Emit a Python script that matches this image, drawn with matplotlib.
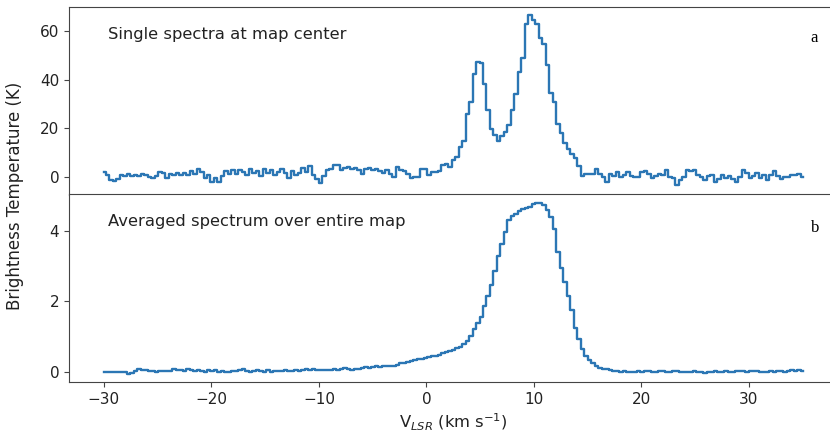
import numpy as np
import matplotlib
matplotlib.use("Agg")
import matplotlib.pyplot as plt

# velocity channels (km/s), 0.325 km/s spacing
velocity = np.linspace(-30, 35, 201)

# single spectrum at map center (K)
single_spectrum = [
    2.0, 0.8, -1.2, -1.5, -0.6, 0.9, 0.4, 1.2, 0.6, 1.0,
    0.3, 1.3, 0.7, 0.2, -0.3, 0.4, 2.1, 1.6, -0.2, 1.4,
    0.9, 1.6, 0.8, 1.9, 1.0, 2.6, 1.2, 3.2, 2.0, -0.5,
    0.8, -1.8, -0.2, -2.1, 0.6, 2.4, 1.5, 2.8, 1.2, 3.1,
    2.2, 0.9, 3.4, 1.6, 2.7, 0.4, 3.3, 1.8, 2.9, 0.7,
    2.1, 3.5, 1.9, -0.5, 2.4, 0.9, 1.6, 3.7, 2.3, 4.4,
    1.1, -0.8, -2.2, 0.5, 2.9, 3.4, 5.1, 4.8, 2.8, 3.6,
    4.1, 3.3, 3.6, 3.0, 1.4, 3.4, 3.9, 2.8, 3.2, 2.6,
    1.9, 3.0, 1.5, -0.1, 4.0, 2.9, 2.6, 1.2, -0.2, 0.2,
    -0.1, 3.4, 3.2, 0.7, 2.1, 2.0, 2.4, 5.1, 5.6, 4.3,
    6.9, 8.2, 12.3, 15.0, 26.0, 31.0, 42.5, 47.3, 47.0, 38.4,
    27.4, 19.9, 17.2, 15.0, 17.0, 18.5, 21.3, 27.4, 34.3, 43.0,
    49.0, 63.0, 66.5, 64.5, 63.0, 57.0, 54.6, 46.0, 34.4, 31.0,
    22.0, 18.0, 14.0, 11.4, 9.4, 8.0, 4.6, 0.5, 1.2, 1.4,
    1.3, 3.4, 1.2, 0.0, -2.0, 1.4, 0.3, 2.1, 0.2, 0.8,
    2.0, 0.6, -0.1, 0.2, 2.0, 2.5, 1.3, -0.3, 0.5, 1.5,
    0.8, 2.9, 0.1, -0.5, -3.0, -1.0, 0.2, 2.9, 2.6, 2.8,
    0.7, 0.1, -1.2, 0.6, 0.7, -2.0, -0.6, 0.9, -0.2, 0.6,
    -0.9, -2.0, 0.0, 2.9, 1.8, -0.3, 0.4, 1.6, -0.4, 0.8,
    -1.1, 0.9, 2.4, 0.3, -0.8, 0.1, 0.2, 0.7, 1.0, 1.4, 0.0,
]

# spectrum averaged over the whole map (K)
averaged_spectrum = [
    0.0, 0.0, 0.0, 0.0, 0.0, 0.0, 0.0, -0.05, -0.04, 0.03,
    0.09, 0.04, 0.06, 0.01, 0.03, 0.0, 0.02, 0.01, 0.03, 0.02,
    0.07, 0.05, 0.04, 0.03, 0.08, 0.05, 0.03, 0.06, 0.01, 0.0,
    0.04, 0.02, 0.05, -0.01, 0.01, 0.0, -0.02, 0.03, 0.01, 0.05,
    0.07, 0.03, -0.02, 0.01, 0.06, 0.03, 0.0, 0.04, -0.01, 0.01,
    0.03, 0.02, 0.05, 0.01, 0.03, 0.04, 0.02, 0.05, 0.07, 0.06,
    0.09, 0.06, 0.05, 0.04, 0.06, 0.05, 0.07, 0.04, 0.08, 0.10,
    0.08, 0.06, 0.09, 0.08, 0.11, 0.14, 0.12, 0.13, 0.15, 0.14,
    0.15, 0.16, 0.15, 0.17, 0.20, 0.24, 0.25, 0.27, 0.30, 0.33,
    0.35, 0.37, 0.40, 0.42, 0.44, 0.46, 0.48, 0.52, 0.55, 0.58,
    0.61, 0.66, 0.71, 0.78, 0.88, 1.02, 1.20, 1.37, 1.55, 1.85,
    2.15, 2.45, 2.85, 3.28, 3.62, 3.95, 4.30, 4.40, 4.48, 4.55,
    4.60, 4.64, 4.68, 4.76, 4.79, 4.78, 4.72, 4.58, 4.38, 4.05,
    3.40, 2.95, 2.55, 2.15, 1.75, 1.25, 0.92, 0.65, 0.46, 0.33,
    0.24, 0.17, 0.12, 0.09, 0.07, 0.05, 0.03, 0.01, 0.0, 0.01,
    0.0, 0.0, -0.01, 0.02, 0.0, 0.01, 0.02, 0.0, -0.01, 0.01,
    0.02, 0.0, 0.0, 0.02, 0.01, -0.01, 0.0, -0.02, 0.0, 0.01,
    0.0, -0.01, -0.03, 0.0, 0.0, 0.01, 0.0, 0.0, 0.01, 0.0,
    0.0, 0.01, 0.03, 0.02, 0.0, 0.03, 0.01, 0.02, 0.0, 0.0,
    0.0, 0.02, 0.0, 0.01, 0.02, 0.0, 0.02, 0.04, 0.03, 0.05, 0.02,
]

panel_titles = ["Single spectra at map center", "Averaged spectrum over entire map"]
panel_letters = ["a", "b"]

line_color = "#2b76b4"
spine_color = "#444444"
text_color = "#222222"

fig = plt.figure(figsize=(8.3, 4.36), dpi=100)
W, H = 830, 436
left, right = 69, 837.6
ax_top = fig.add_axes([left / W, 1 - 194.5 / H, (right - left) / W, (194.5 - 7.3) / H])
ax_bot = fig.add_axes([left / W, 1 - 382 / H, (right - left) / W, (382 - 194.5) / H],
                      sharex=ax_top)

ax_top.plot(velocity, single_spectrum, drawstyle="steps-mid", color=line_color, lw=1.7)
ax_bot.plot(velocity, averaged_spectrum, drawstyle="steps-mid", color=line_color, lw=1.7)

ax_top.set_ylim(-7.1, 69.7)
ax_bot.set_ylim(-0.29, 5.02)
ax_top.set_yticks([0, 20, 40, 60])
ax_bot.set_yticks([0, 2, 4])
ax_bot.set_xticks([-30, -20, -10, 0, 10, 20, 30])

for ax, title in zip([ax_top, ax_bot], panel_titles):
    ax.text(0.051, 0.855, title, transform=ax.transAxes, fontsize=11.8,
            color=text_color, va="center", ha="left")
    ax.tick_params(labelsize=11, colors=text_color, color=spine_color)
    for sp in ax.spines.values():
        sp.set_color(spine_color)

ax_top.tick_params(axis="x", bottom=False, labelbottom=False)

ax_bot.set_xlabel(r"V$_{LSR}$ (km s$^{-1}$)", fontsize=11.8, color=text_color)
fig.text(15 / W, 1 - 196 / H, "Brightness Temperature (K)", rotation=90,
         fontsize=12, color=text_color, va="center", ha="center")

fig.text(814 / W, 1 - 38 / H, panel_letters[0], family="Liberation Serif",
         fontsize=12, color="black", va="center", ha="center")
fig.text(815.5 / W, 1 - 228 / H, panel_letters[1], family="Liberation Serif",
         fontsize=12, color="black", va="center", ha="center")

fig.savefig("out.png", dpi=100)
